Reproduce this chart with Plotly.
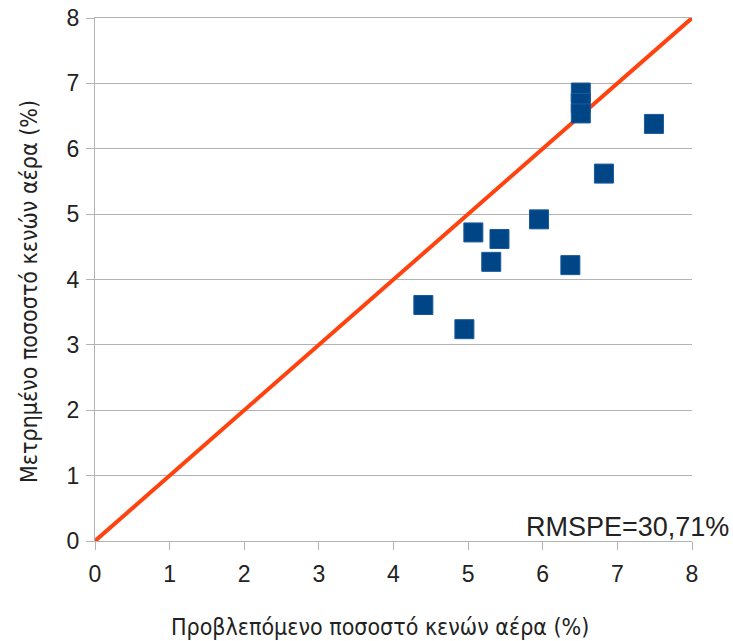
import plotly.graph_objects as go

predicted = [4.40, 4.95, 5.07, 5.31, 5.42, 5.95, 6.37, 6.51, 6.51, 6.51, 6.82, 7.49]
measured = [3.61, 3.24, 4.72, 4.27, 4.62, 4.92, 4.22, 6.86, 6.70, 6.54, 5.62, 6.38]
line_x = [0, 8]
line_y = [0, 8]
ticks = [0, 1, 2, 3, 4, 5, 6, 7, 8]

fig = go.Figure()
fig.add_trace(go.Scatter(x=line_x, y=line_y, mode="lines",
                         line=dict(color="#ff420e", width=4), showlegend=False))
fig.add_trace(go.Scatter(x=predicted, y=measured, mode="markers",
                         marker=dict(symbol="square", size=19, color="#004586",
                                     line=dict(color="#1a5a9a", width=1)),
                         showlegend=False))

tickfont = dict(family="Liberation Sans, Arial, sans-serif", size=23, color="#222222")
titlefont = dict(family="Liberation Sans Narrow, DejaVu Sans Condensed, Liberation Sans, sans-serif", size=23, color="#222222")

L, R, T, B = 95, 41, 18, 100
PW = 733 - L - R
PH = 641 - T - B

fig.update_layout(
    width=733, height=641,
    margin=dict(l=L, r=R, t=T, b=B, autoexpand=False),
    paper_bgcolor="white", plot_bgcolor="white",
    xaxis=dict(range=[0, 8], tickvals=ticks, showgrid=False, zeroline=False,
               showline=True, linecolor="#b3b3b3", linewidth=1, mirror=True,
               ticks="outside", ticklen=8, tickcolor="#b3b3b3", tickfont=tickfont,
               ticklabelstandoff=4),
    yaxis=dict(range=[0, 8], tickvals=ticks, showgrid=True, gridcolor="#b3b3b3", gridwidth=1,
               zeroline=False, showline=True, linecolor="#b3b3b3", linewidth=1,
               ticks="outside", ticklen=8, tickcolor="#b3b3b3", tickfont=tickfont,
               ticklabelstandoff=2),
    annotations=[
        dict(text="RMSPE=30,71%", xref="paper", yref="paper",
             x=(731 - L) / PW, y=(541 - 527) / PH, xanchor="right", yanchor="middle",
             showarrow=False, font=dict(family="Liberation Sans, Arial, sans-serif", size=27, color="#222222")),
        dict(text="Προβλεπόμενο ποσοστό κενών αέρα (%)", xref="paper", yref="paper",
             x=(380 - L) / PW, y=-(627 - (641 - B)) / PH, xanchor="center", yanchor="middle",
             showarrow=False, font=titlefont),
        dict(text="Μετρημένο ποσοστό κενών αέρα (%)", xref="paper", yref="paper",
             x=-(L - 29) / PW, y=(641 - B - 292) / PH, xanchor="center", yanchor="middle",
             textangle=-90, showarrow=False, font=titlefont),
    ],
)
fig.write_html("out.html")
